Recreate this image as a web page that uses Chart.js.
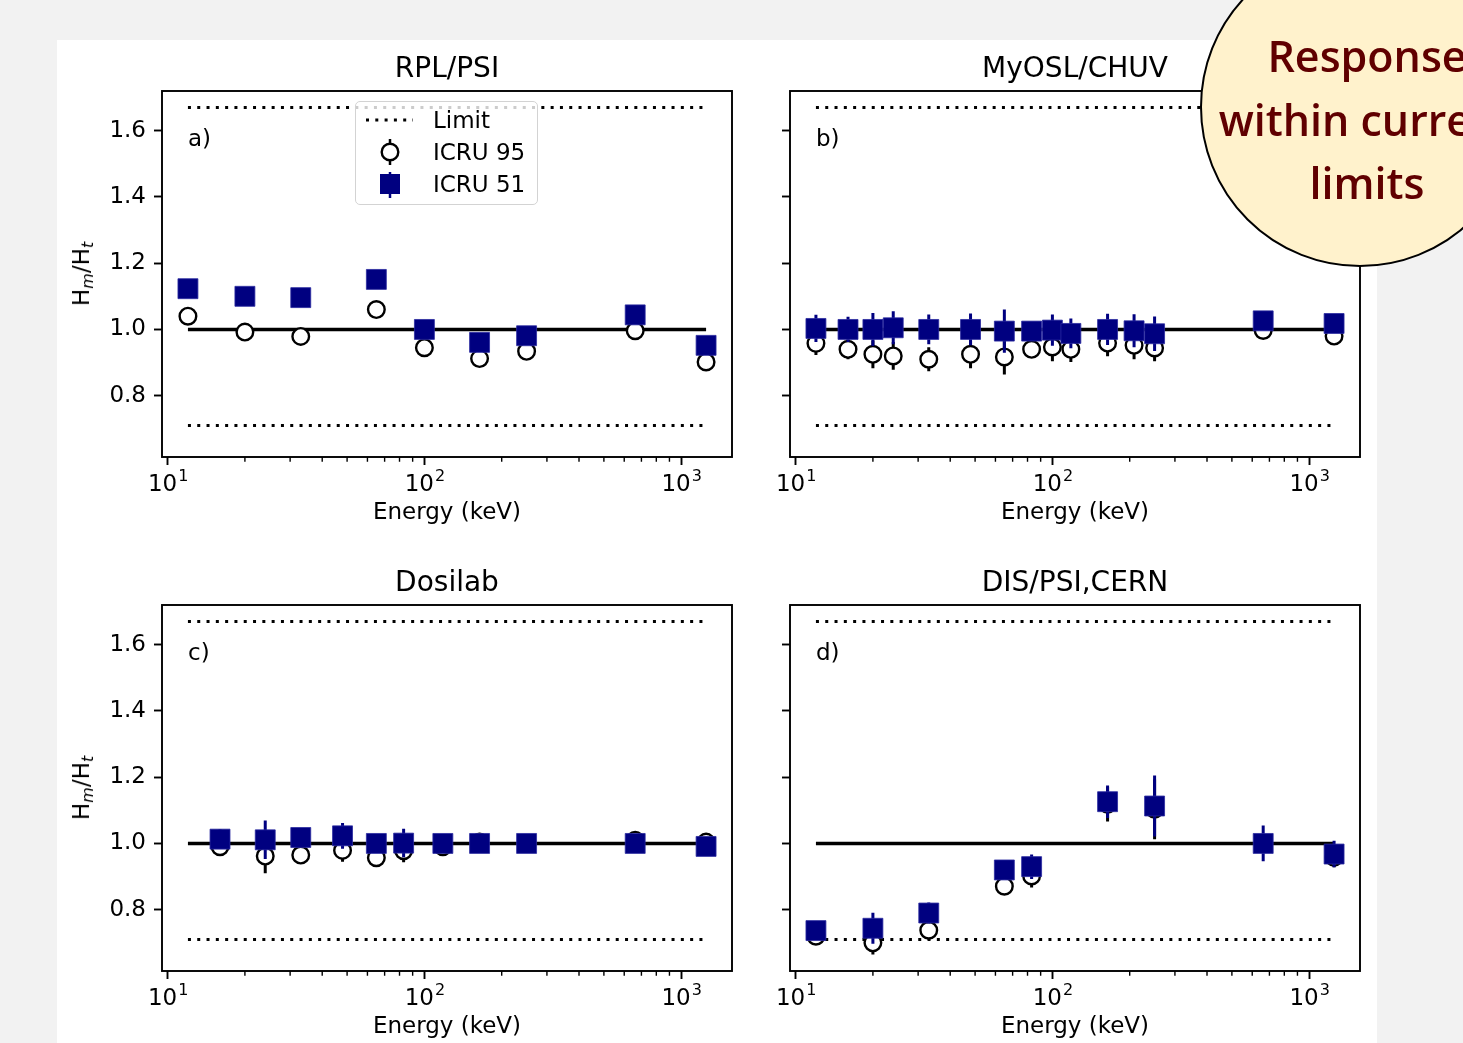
<!DOCTYPE html>
<html>
<head>
<meta charset="utf-8">
<script src="https://cdn.jsdelivr.net/npm/chart.js@4.4.0/dist/chart.umd.min.js"></script>
<style>
  html, body { margin: 0; padding: 0; }
  body { width: 1463px; height: 1043px; background: #f2f2f2; position: relative; overflow: hidden;
         font-family: 'DejaVu Sans', sans-serif; color: #000; }
  #sheet { position: absolute; left: 57px; top: 40px; width: 1320px; height: 1003px; background: #fff; }
  canvas { position: absolute; }
  .lbl { position: absolute; white-space: nowrap; line-height: 1; transform: translate(-50%, -50%); }
  .title { font-size: 28px; }
  .left { transform: translate(0, -50%); font-size: 23px; }
  .ytitle { font-size: 23px; transform: translate(-50%, -50%) rotate(-90deg); }
  .ytitle sub { font-style: italic; font-size: 16px; vertical-align: -4px; }
  #legend { position: absolute; left: 355px; top: 101px; width: 183px; height: 104px; box-sizing: border-box;
            border: 1.5px solid #d3d3d3; border-radius: 5px; background: rgba(255,255,255,0.8); }
  #legend svg { position: absolute; left: 0; top: 0; }
  #badge { position: absolute; left: 1200px; top: -53px; width: 320px; height: 320px; box-sizing: border-box;
           border-radius: 50%; background: #fff2cc; border: 2px solid #000; }
  #badgeText { position: absolute; left: 1167px; top: 24px; width: 400px; text-align: center;
               font-family: 'Open Sans', sans-serif; font-weight: 600; font-size: 43px; line-height: 63.5px; color: #600000; }
</style>
</head>
<body>
<div id="sheet"></div>

<canvas id="chartA" width="688" height="470" style="left:62px;top:75px"></canvas>
<canvas id="chartB" width="688" height="470" style="left:690px;top:75px"></canvas>
<canvas id="chartC" width="688" height="470" style="left:62px;top:589px"></canvas>
<canvas id="chartD" width="688" height="470" style="left:690px;top:589px"></canvas>

<div class="lbl title" style="left:447px;top:68px">RPL/PSI</div>
<div class="lbl title" style="left:1075px;top:68px">MyOSL/CHUV</div>
<div class="lbl title" style="left:447px;top:582px">Dosilab</div>
<div class="lbl title" style="left:1075px;top:582px">DIS/PSI,CERN</div>

<div class="lbl left" style="left:188px;top:138px">a)</div>
<div class="lbl left" style="left:816px;top:138px">b)</div>
<div class="lbl left" style="left:188px;top:652px">c)</div>
<div class="lbl left" style="left:816px;top:652px">d)</div>

<div class="lbl ytitle" style="left:83px;top:274px">H<sub>m</sub>/H<sub>t</sub></div>
<div class="lbl ytitle" style="left:83px;top:788px">H<sub>m</sub>/H<sub>t</sub></div>

<div id="legend">
  <svg width="183" height="104">
    <line x1="10" y1="18" x2="57" y2="18" stroke="#000" stroke-width="3" stroke-dasharray="3,6.3"/>
    <line x1="34" y1="37" x2="34" y2="63" stroke="#000" stroke-width="2.5"/>
    <circle cx="34" cy="50" r="8.3" fill="#fff" stroke="#000" stroke-width="2.4"/>
    <line x1="34" y1="70" x2="34" y2="96" stroke="#000080" stroke-width="2.5"/>
    <rect x="24" y="72" width="20" height="20" fill="#000080"/>
  </svg>
  <div class="lbl left" style="left:77px;top:18px">Limit</div>
  <div class="lbl left" style="left:77px;top:50px">ICRU 95</div>
  <div class="lbl left" style="left:77px;top:82px">ICRU 51</div>
</div>

<div id="badge"></div>
<div id="badgeText">Response<br>within current<br>limits</div>

<script>
// axes
const xTickValues = [10, 100, 1000];
const xTickBase = '10';
const xTickExponents = ['1', '2', '3'];
const yTickValues = [0.8, 1.0, 1.2, 1.4, 1.6];
const yTickLabels = ['0.8', '1.0', '1.2', '1.4', '1.6'];

// reference lines
const refLevel = 1.0;
const limitLow = 0.71;
const limitHigh = 1.67;
const refRange = [12, 1250];

// a) RPL/PSI
const energyA = [12, 20, 33, 65, 100, 164, 250, 662, 1250];
const icru95A = [1.040, 0.992, 0.979, 1.060, 0.945, 0.912, 0.934, 0.996, 0.902];
const err95A  = [0, 0, 0, 0, 0, 0, 0, 0, 0];
const icru51A = [1.123, 1.100, 1.096, 1.151, 1.000, 0.961, 0.981, 1.044, 0.952];
const err51A  = [0, 0, 0, 0, 0, 0, 0, 0, 0];

// b) MyOSL/CHUV
const energyB = [12, 16, 20, 24, 33, 48, 65, 83, 100, 118, 164, 208, 250, 662, 1250];
const icru95B = [0.958, 0.940, 0.925, 0.920, 0.910, 0.925, 0.917, 0.940, 0.947, 0.940, 0.959, 0.952, 0.944, 0.997, 0.980];
const err95B  = [0.035, 0.030, 0.042, 0.042, 0.036, 0.042, 0.053, 0.020, 0.043, 0.038, 0.040, 0.042, 0.040, 0, 0];
const icru51B = [1.003, 1.000, 1.000, 1.005, 1.000, 1.000, 0.995, 0.995, 0.998, 0.988, 1.000, 0.996, 0.987, 1.026, 1.018];
const err51B  = [0.041, 0.038, 0.050, 0.050, 0.045, 0.048, 0.065, 0.020, 0.047, 0.045, 0.047, 0.050, 0.052, 0, 0];

// c) Dosilab
const energyC = [16, 24, 33, 48, 65, 83, 118, 164, 250, 662, 1250];
const icru95C = [0.990, 0.962, 0.965, 0.979, 0.957, 0.978, 0.990, 1.004, 1.000, 1.010, 1.004];
const err95C  = [0.028, 0.052, 0, 0.034, 0, 0.035, 0, 0, 0, 0, 0];
const icru51C = [1.013, 1.011, 1.018, 1.023, 1.000, 1.001, 1.000, 1.000, 1.000, 1.000, 0.991];
const err51C  = [0.030, 0.058, 0, 0.039, 0, 0.043, 0, 0, 0, 0, 0];

// d) DIS/PSI,CERN
const energyD = [12, 20, 33, 65, 83, 164, 250, 662, 1250];
const icru95D = [0.720, 0.700, 0.738, 0.871, 0.902, 1.118, 1.103, 1.000, 0.958];
const err95D  = [0, 0.035, 0.028, 0, 0.035, 0.052, 0.090, 0, 0.030];
const icru51D = [0.737, 0.744, 0.790, 0.920, 0.930, 1.126, 1.113, 1.000, 0.968];
const err51D  = [0, 0.047, 0.032, 0, 0.037, 0.049, 0.092, 0.054, 0.040];

const navy = '#000080';
const minorTicks = [];
[10, 100].forEach(d => { for (let m = 2; m <= 9; m++) minorTicks.push(m * d); });

function toPoints(xs, ys) {
  return xs.map((x, i) => ({ x: x, y: ys[i] }));
}

function errPoints(xs, ys, es) {
  const pts = [];
  xs.forEach((x, i) => {
    if (es[i] > 0) pts.push({ x: x, y: ys[i] - es[i] }, { x: x, y: ys[i] + es[i] }, { x: x, y: null });
  });
  return pts;
}

function hline(y, dash, order) {
  return {
    data: [{ x: refRange[0], y: y }, { x: refRange[1], y: y }],
    showLine: true, borderColor: '#000', borderWidth: dash ? 3 : 3.5, borderDash: dash || [],
    pointRadius: 0, order: order
  };
}

// box frame, minor log ticks and 10^n labels
const framePlugin = {
  id: 'frame',
  afterDraw(chart) {
    const { ctx, chartArea: a } = chart;
    const x = chart.scales.x;
    ctx.save();
    ctx.strokeStyle = '#000';
    ctx.lineWidth = 1.9;
    ctx.strokeRect(a.left, a.top, a.right - a.left, a.bottom - a.top);
    ctx.lineWidth = 1.4;
    ctx.beginPath();
    minorTicks.forEach(v => {
      if (v > x.min && v < x.max) {
        const px = x.getPixelForValue(v);
        ctx.moveTo(px, a.bottom);
        ctx.lineTo(px, a.bottom + 4.7);
      }
    });
    ctx.stroke();

    ctx.fillStyle = '#000';
    ctx.textBaseline = 'alphabetic';
    ctx.textAlign = 'left';
    xTickValues.forEach((v, i) => {
      const px = x.getPixelForValue(v);
      ctx.font = "23px 'DejaVu Sans'";
      const wb = ctx.measureText(xTickBase).width;
      ctx.font = "16px 'DejaVu Sans'";
      const we = ctx.measureText(xTickExponents[i]).width;
      const x0 = px - (wb + we) / 2;
      ctx.font = "23px 'DejaVu Sans'";
      ctx.fillText(xTickBase, x0, a.bottom + 34);
      ctx.font = "16px 'DejaVu Sans'";
      ctx.fillText(xTickExponents[i], x0 + wb + 1, a.bottom + 24);
    });
    ctx.restore();
  }
};

function makeChart(id, xs, y95, e95, y51, e51, showYLabels) {
  return new Chart(document.getElementById(id), {
    type: 'scatter',
    data: {
      datasets: [
        hline(limitHigh, [3, 6.3], 6),
        hline(limitLow, [3, 6.3], 6),
        hline(refLevel, null, 5),
        { data: errPoints(xs, y95, e95), showLine: true, spanGaps: false, borderColor: '#000',
          borderWidth: 3, pointRadius: 0, order: 4 },
        { data: toPoints(xs, y95), pointStyle: 'circle', pointRadius: 8.3, pointBorderWidth: 2.4,
          pointBackgroundColor: '#fff', pointBorderColor: '#000', order: 3 },
        { data: errPoints(xs, y51, e51), showLine: true, spanGaps: false, borderColor: navy,
          borderWidth: 3, pointRadius: 0, order: 2 },
        { data: toPoints(xs, y51), pointStyle: 'rect', pointRadius: 14.1, pointBorderWidth: 0.8,
          pointBackgroundColor: navy, pointBorderColor: '#2a2aa0', order: 1 }
      ]
    },
    options: {
      responsive: false,
      animation: false,
      events: [],
      layout: { padding: { top: 16, right: 18, left: 0, bottom: 0 } },
      plugins: { legend: { display: false }, title: { display: false }, tooltip: { enabled: false } },
      scales: {
        x: {
          type: 'logarithmic', min: 9.51, max: 1577,
          border: { display: false },
          grid: { drawOnChartArea: false, drawTicks: true, tickLength: 8, tickWidth: 1.9, tickColor: '#000' },
          ticks: { color: '#000', font: { size: 23 }, padding: 5, autoSkip: false, maxRotation: 0,
                   callback: () => '' },
          afterBuildTicks: s => { s.ticks = xTickValues.map(v => ({ value: v })); },
          afterFit: s => { s.height = 88; s.paddingLeft = 0; s.paddingRight = 0; },
          title: { display: true, text: 'Energy (keV)', color: '#000', font: { size: 23 },
                   padding: { top: 18, bottom: 18 } }
        },
        y: {
          type: 'linear', min: 0.615, max: 1.7197,
          border: { display: false },
          grid: { drawOnChartArea: false, drawTicks: true, tickLength: 8, tickWidth: 1.9, tickColor: '#000' },
          ticks: { color: '#000', font: { size: 23 }, padding: 8,
                   callback: v => showYLabels ? yTickLabels[yTickValues.indexOf(v)] : '' },
          afterBuildTicks: s => { s.ticks = yTickValues.map(v => ({ value: v })); },
          afterFit: s => { s.width = 100; s.paddingTop = 0; s.paddingBottom = 0; }
        }
      }
    },
    plugins: [framePlugin]
  });
}

Chart.defaults.font.family = "'DejaVu Sans', sans-serif";
Chart.defaults.color = '#000';

makeChart('chartA', energyA, icru95A, err95A, icru51A, err51A, true);
makeChart('chartB', energyB, icru95B, err95B, icru51B, err51B, false);
makeChart('chartC', energyC, icru95C, err95C, icru51C, err51C, true);
makeChart('chartD', energyD, icru95D, err95D, icru51D, err51D, false);
</script>
</body>
</html>
